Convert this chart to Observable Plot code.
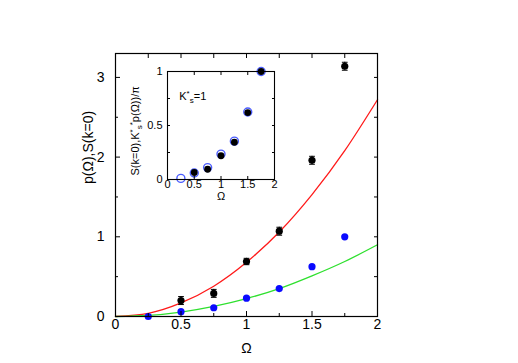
<!DOCTYPE html>
<html>
<head>
<meta charset="utf-8">
<script src="https://cdn.jsdelivr.net/npm/d3@7"></script>
<script src="https://cdn.jsdelivr.net/npm/@observablehq/plot@0.6"></script>
<style>
  html, body { margin: 0; padding: 0; background: #fff; }
  #wrap { position: relative; width: 518px; height: 363px; }
  #wrap svg { position: absolute; overflow: visible; }
</style>
</head>
<body>
<div id="wrap"></div>
<script>
// ---- data ----
const omegaS = [0.25, 0.5, 0.75, 1, 1.25, 1.5, 1.75];          // S(k=0) points
const sk0 = [0.0, 0.06, 0.11, 0.23, 0.35, 0.625, 1.0];
const omegaP = [0.5, 0.75, 1, 1.25, 1.5, 1.75];                // p(Omega) points
const pOmega = [0.2, 0.29, 0.69, 1.07, 1.96, 3.14];
const pErr = [0.05, 0.05, 0.04, 0.05, 0.05, 0.05];
const fitOmega = [0, 0.25, 0.5, 0.75, 1, 1.25, 1.5, 1.75, 2];
const redFit = [0, 0.04, 0.17, 0.38, 0.68, 1.06, 1.53, 2.08, 2.72];
const greenFit = [0, 0.014, 0.056, 0.127, 0.225, 0.35, 0.51, 0.69, 0.9];
// inset
const insetS = [0.01, 0.06, 0.11, 0.235, 0.355, 0.625, 1.0];
const insetP = [0.065, 0.095, 0.22, 0.345, 0.62, 1.0];
// tick labels
const mainXTicks = [0, 0.5, 1, 1.5, 2];
const mainXMinor = [0.25, 0.75, 1.25, 1.75];
const mainYTicks = [0, 1, 2, 3];
const mainYMinor = [0.5, 1.5, 2.5];
const insetXTicks = [0, 0.5, 1, 1.5, 2];
const insetYTicks = [0, 0.5, 1];
const insetYMinor = [0.25, 0.75];
const annotation = [{x: 0.22, y: 0.77}];

const FONT = "'Liberation Sans', Arial, Helvetica, sans-serif";
const capW = 0.022;

const sPts = omegaS.map((x, i) => ({x, y: sk0[i]}));
const pPts = omegaP.map((x, i) => ({x, y: pOmega[i], e: pErr[i]}));
const redPts = fitOmega.map((x, i) => ({x, y: redFit[i]}));
const greenPts = fitOmega.map((x, i) => ({x, y: greenFit[i]}));
const insSPts = omegaS.map((x, i) => ({x, y: insetS[i]}));
const insPPts = omegaP.map((x, i) => ({x, y: insetP[i]}));

const fmt = d => String(d);
const blank = () => "";

const main = Plot.plot({
  width: 518, height: 363,
  marginLeft: 115, marginRight: 141, marginTop: 53, marginBottom: 47,
  x: {domain: [0, 2]},
  y: {domain: [0, 3.3]},
  style: {fontFamily: FONT, fontSize: "14px", background: "transparent", color: "#000"},
  marks: [
    Plot.line(redPts, {x: "x", y: "y", stroke: "#ff1a1a", strokeWidth: 1.3, curve: "natural"}),
    Plot.line(greenPts, {x: "x", y: "y", stroke: "#2ee02e", strokeWidth: 1.3, curve: "natural"}),
    Plot.ruleX(pPts, {x: "x", y1: d => d.y - d.e, y2: d => d.y + d.e, stroke: "#000", strokeWidth: 1}),
    Plot.link(pPts, {x1: d => d.x - capW, x2: d => d.x + capW, y1: d => d.y - d.e, y2: d => d.y - d.e, stroke: "#000"}),
    Plot.link(pPts, {x1: d => d.x - capW, x2: d => d.x + capW, y1: d => d.y + d.e, y2: d => d.y + d.e, stroke: "#000"}),
    Plot.dot(sPts, {x: "x", y: "y", r: 3.6, fill: "#0a0aff", stroke: "none"}),
    Plot.dot(pPts, {x: "x", y: "y", r: 3.6, fill: "#000", stroke: "none"}),
    Plot.frame({stroke: "#000", strokeWidth: 1.2}),
    Plot.axisX({ticks: mainXTicks, tickSize: -5, tickPadding: 8, tickFormat: fmt, label: null, fontSize: 14}),
    Plot.axisX({ticks: mainXMinor, tickSize: -3, tickPadding: 8, tickFormat: blank, label: null}),
    Plot.axisX({anchor: "top", ticks: mainXTicks.concat(mainXMinor), tickSize: -4, tickFormat: blank, label: null}),
    Plot.axisY({ticks: mainYTicks, tickSize: -5, tickPadding: 16, tickFormat: fmt, label: null, fontSize: 14}),
    Plot.axisY({ticks: mainYMinor, tickSize: -3, tickFormat: blank, label: null}),
    Plot.axisY({anchor: "right", ticks: mainYTicks.concat(mainYMinor), tickSize: -4, tickFormat: blank, label: null}),
    Plot.text(["Ω"], {frameAnchor: "bottom", dy: 36, fontSize: 14, fill: "#000"}),
    Plot.text(["p(Ω),S(k=0)"], {frameAnchor: "left", dx: -27, dy: -1, rotate: -90, fontSize: 14, fill: "#000"})
  ]
});
main.style.left = "0px";
main.style.top = "0px";

const inset = Plot.plot({
  width: 180, height: 150,
  marginLeft: 57, marginRight: 16, marginTop: 16, marginBottom: 26,
  x: {domain: [0, 2]},
  y: {domain: [0, 1]},
  style: {fontFamily: FONT, fontSize: "11px", background: "transparent", color: "#000"},
  marks: [
    Plot.dot(insSPts, {x: "x", y: "y", r: 4, fill: "none", stroke: "#4a5cff", strokeWidth: 1.4}),
    Plot.dot(insPPts, {x: "x", y: "y", r: 3.4, fill: "#000", stroke: "none"}),
    Plot.frame({stroke: "#000", strokeWidth: 1.1}),
    Plot.axisX({ticks: insetXTicks, tickSize: -3, tickPadding: 4, tickFormat: fmt, label: null, fontSize: 11}),
    Plot.axisX({anchor: "top", ticks: insetXTicks, tickSize: -3, tickFormat: blank, label: null}),
    Plot.axisY({ticks: insetYTicks, tickSize: -3, tickPadding: 8, tickFormat: fmt, label: null, fontSize: 11}),
    Plot.axisY({ticks: insetYMinor, tickSize: -3, tickFormat: blank, label: null}),
    Plot.axisY({anchor: "right", ticks: insetYTicks.concat(insetYMinor), tickSize: -3, tickFormat: blank, label: null}),
    Plot.text(["Ω"], {frameAnchor: "bottom", dy: 20, fontSize: 11, fill: "#000"}),
    Plot.text(["S(k=0),K*s*p(Ω))/π"], {frameAnchor: "bottom-left", dx: -29, dy: -4, rotate: -90, textAnchor: "start", fontSize: 11, fill: "#000", className: "inset-ylab"}),
    Plot.text(annotation, {x: "x", y: "y", text: () => "K*s=1", textAnchor: "start", fontSize: 11, fill: "#000", className: "inset-ann"})
  ]
});
inset.style.left = "110px";
inset.style.top = "55px";

// rich text (superscript / subscript) for the inset labels
function rich(textEl, parts) {
  const t = d3.select(textEl);
  t.text(null);
  parts.forEach(([s, dy, size]) => {
    const ts = t.append("tspan").text(s);
    if (dy) ts.attr("dy", dy);
    if (size) ts.attr("font-size", size);
  });
}
d3.select(inset).selectAll("g.inset-ylab text").each(function() {
  rich(this, [["S(k=0),K", 0], ["*", -4, 8], ["s", 7, 8], ["*", -7, 8], ["p(Ω))/π", 4]]);
});
d3.select(inset).selectAll("g.inset-ann text").each(function() {
  rich(this, [["K", 0], ["*", -4, 8], ["s", 7, 8], ["=1", -3]]);
});

const wrap = document.getElementById("wrap");
wrap.appendChild(main);
wrap.appendChild(inset);
</script>
</body>
</html>
